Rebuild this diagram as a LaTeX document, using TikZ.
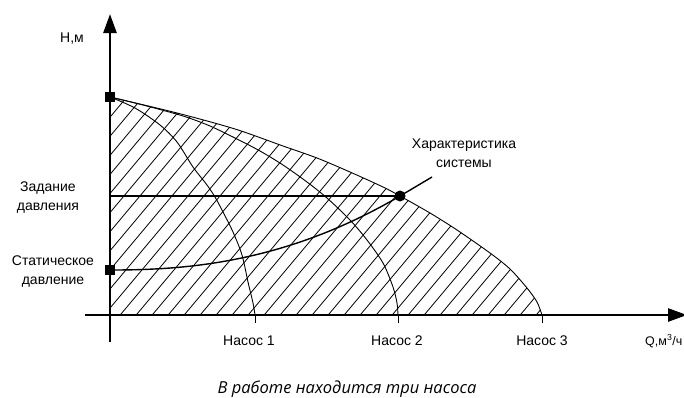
\documentclass[tikz,border=0pt]{standalone}
\usepackage{fontspec}
\setmainfont{Liberation Sans}
\newfontfamily\capfont{Open Sans}
\usetikzlibrary{arrows.meta}
\tikzset{
  lbl/.style={font=\fontsize{14}{19}\selectfont, inner sep=0pt, align=center},
  axis/.style={line width=2.6pt, -{Triangle[length=19pt,width=13pt]}},
  curve/.style={line width=0.9pt},
  hatch/.style={line width=0.8pt},
  tick/.style={line width=0.9pt},
  sq/.style={fill=black, minimum size=10pt, inner sep=0pt, draw=none},
  dot/.style={circle, fill=black, minimum size=11pt, inner sep=0pt}
}
\begin{document}
\begin{tikzpicture}[x=1pt,y=-1pt]
\useasboundingbox (0,0) rectangle (684,397);
% key points
\coordinate (O) at (110,315);
\coordinate (ybot) at (110,342);
\coordinate (ytop) at (110,14);
\coordinate (xl) at (85,315);
\coordinate (xr) at (687,315);
\coordinate (top) at (110,97);
\coordinate (stat) at (110,270);
\coordinate (op) at (400,196);
\coordinate (set) at (110,196);
\coordinate (lead) at (432,177);
\coordinate (q1) at (255,315);
\coordinate (q2) at (398,315);
\coordinate (q3) at (542,315);
% hatching
\begin{scope}
\clip (O) -- plot[smooth,tension=0.5] coordinates {(110,97) (177,113) (235,129) (283,146) (317,158) (350,172) (383,187) (400,196) (430,213) (457,230) (490,253) (510,269) (527,288) (537,302) (542,315)} -- cycle;
\foreach \x in {-300,-284,...,580} \draw[hatch] (\x,320) -- ++(264,-315);
\end{scope}
% pump curves
\draw[curve] plot[smooth,tension=0.5] coordinates {(110,97) (177,113) (235,129) (283,146) (317,158) (350,172) (383,187) (400,196) (430,213) (457,230) (490,253) (510,269) (527,288) (537,302) (542,315)};
\draw[curve] plot[smooth,tension=0.5] coordinates {(110,97) (143,105) (183,116) (210,126) (237,139) (260,151) (283,165) (307,182) (327,198) (350,220) (367,240) (383,263) (393,287) (397,303) (398,315)};
\draw[curve] plot[smooth,tension=0.5] coordinates {(110,97) (135,108) (160,125) (177,142) (193,167) (207,185) (215,197) (223,212) (233,232) (242,255) (248,282) (253,303) (255,315)};
% set pressure line and system curve
\draw[line width=1.4pt] (set) -- (op);
\draw[line width=1.4pt] (stat) -- plot[domain=1:290,samples=60] ({110+\x},{270-74*(\x/290)^2.3}) -- (lead);
% axes
\draw[axis] (ybot) -- (ytop);
\draw[axis] (xl) -- (xr);
\draw[tick] (q1) -- ++(0,8);
\draw[tick] (q2) -- ++(0,8);
\draw[tick] (q3) -- ++(0,8);
% markers
\node[sq] (sqtop) at (top) {};
\node[sq] (sqstat) at (stat) {};
\node[dot] (opdot) at (op) {};
% labels
\node[lbl] (hl) at (72,39) {Н,м};
\node[lbl] (zd) at (48,198) {Задание\\давления};
\node[lbl] (sd) at (53,271) {Статическое\\давление};
\node[lbl] (hs) at (464,153) {Характеристика\\системы};
\node[lbl] (n1) at (249,341) {Насос 1};
\node[lbl] (n2) at (397,341) {Насос 2};
\node[lbl] (n3) at (542,341) {Насос 3};
\node[lbl, anchor=west, font=\fontsize{12.5}{15}\selectfont] (ql) at (645,341) {Q,м\textsuperscript{3}/ч};
\node[font=\capfont\itshape\fontsize{16.5}{19}\selectfont, inner sep=0pt] (cap) at (347,389) {В работе находится три насоса};
\end{tikzpicture}
\end{document}
